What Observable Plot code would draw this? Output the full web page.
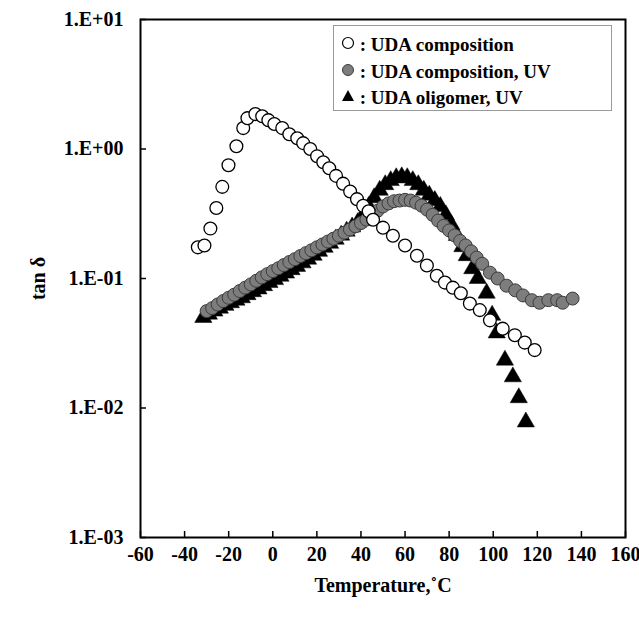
<!DOCTYPE html>
<html>
<head>
<meta charset="utf-8">
<script src="https://cdn.jsdelivr.net/npm/d3@7"></script>
<script src="https://cdn.jsdelivr.net/npm/@observablehq/plot@0.6"></script>
<style>
  html, body { margin: 0; padding: 0; background: #fff; overflow: hidden; }
  #wrap { position: relative; width: 639px; height: 623px; font-family: "Liberation Serif", "Times New Roman", serif; font-weight: bold; }
  #legend { position: absolute; left: 333px; top: 25px; width: 279px; height: 86px; border: 1px solid #9a9a9a; background: #fff; box-sizing: border-box; font-size: 19px; }
  .row { position: absolute; left: 7px; height: 22px; line-height: 22px; white-space: nowrap; }
  .row svg { vertical-align: top; }
</style>
</head>
<body>
<div id="wrap"><div id="legend"></div></div>
<script>
// ---- data ----
const seriesNames = ["UDA composition", "UDA composition, UV", "UDA oligomer, UV"];

// open circles: UDA composition
const openT = [-34, -31, -28.3, -25.6, -22.9, -20.1, -16.5, -13.4, -11.5, -7.9, -4.8, -2, 0.7, 4.3, 7.5, 11.1, 13.8, 17, 20.1, 22.9, 25.6, 28.7, 31.9, 35.1, 38.2, 41, 43.5, 45.5, 50, 54.5, 60, 65.4, 69.9, 74.4, 78.1, 81.7, 85.3, 89.4, 93.9, 98.5, 104.3, 109.8, 114.3, 118.8];
const openV = [0.174, 0.18, 0.243, 0.35, 0.51, 0.75, 1.05, 1.45, 1.73, 1.86, 1.79, 1.67, 1.56, 1.45, 1.3, 1.21, 1.11, 1.0, 0.88, 0.79, 0.71, 0.62, 0.54, 0.47, 0.41, 0.364, 0.33, 0.284, 0.247, 0.214, 0.18, 0.15, 0.126, 0.105, 0.093, 0.085, 0.077, 0.064, 0.057, 0.0475, 0.041, 0.0365, 0.032, 0.028];

// grey filled circles: UDA composition, UV
const greyT = [-30, -27.5, -25, -22.5, -20, -17.5, -15, -12.5, -10, -7.5, -5, -2.5, 0, 2.5, 5, 7.5, 10, 12.5, 15, 17.5, 20, 22.5, 25, 27.5, 30, 32.5, 35, 37.5, 40, 42.5, 45, 47.5, 50, 52.5, 55, 57.5, 60, 62.5, 65, 67.5, 70, 72.5, 75, 77.5, 80, 82.5, 85, 87.5, 90, 92.5, 95, 98.5, 102, 106, 110, 113.5, 117.5, 121, 125, 129, 131.5, 136];
const greyV = [0.056, 0.059, 0.063, 0.067, 0.071, 0.075, 0.080, 0.085, 0.090, 0.096, 0.102, 0.108, 0.114, 0.120, 0.127, 0.134, 0.141, 0.149, 0.157, 0.165, 0.174, 0.183, 0.193, 0.203, 0.214, 0.226, 0.239, 0.253, 0.268, 0.285, 0.305, 0.333, 0.36, 0.38, 0.395, 0.40, 0.405, 0.40, 0.385, 0.365, 0.34, 0.31, 0.28, 0.255, 0.235, 0.215, 0.195, 0.18, 0.162, 0.145, 0.130, 0.111, 0.100, 0.088, 0.081, 0.074, 0.068, 0.065, 0.068, 0.068, 0.065, 0.070];

// black triangles: UDA oligomer, UV
const triT = [-31.5, -29, -26.5, -24, -21.5, -19, -16.5, -14, -11.5, -9, -6.5, -4, -1.5, 1, 3.5, 6, 8.5, 11, 13.5, 16, 18.5, 21, 23.5, 26, 28.5, 31, 33.5, 36, 38.5, 41, 43.5, 46, 48.5, 51, 53.5, 56, 58.5, 61, 63.5, 66, 68.5, 71, 73.5, 76, 78.5, 81, 83.5, 86, 88, 90.5, 93, 97, 99.5, 101.6, 105.3, 108.9, 111.6, 114.8];
const triV = [0.050, 0.053, 0.056, 0.059, 0.062, 0.065, 0.068, 0.071, 0.075, 0.079, 0.083, 0.088, 0.093, 0.098, 0.104, 0.110, 0.117, 0.124, 0.132, 0.141, 0.151, 0.162, 0.174, 0.187, 0.201, 0.216, 0.232, 0.25, 0.27, 0.31, 0.36, 0.42, 0.48, 0.53, 0.57, 0.60, 0.61, 0.60, 0.57, 0.53, 0.48, 0.44, 0.40, 0.36, 0.31, 0.26, 0.215, 0.176, 0.15, 0.119, 0.100, 0.077, 0.052, 0.038, 0.0234, 0.0174, 0.012, 0.0078];

const xTicks = [-60, -40, -20, 0, 20, 40, 60, 80, 100, 120, 140, 160];
const xTickLabels = ["-60", "-40", "-20", "0", "20", "40", "60", "80", "100", "120", "140", "160"];
const yTicks = [0.001, 0.01, 0.1, 1, 10];
const yTickLabels = ["1.E-03", "1.E-02", "1.E-01", "1.E+00", "1.E+01"];
const xLabel = "Temperature,˚C";
const yLabel = "tan δ";

// ---- build tables ----
const openData = openT.map((t, i) => ({T: t, v: openV[i]}));
const greyData = greyT.map((t, i) => ({T: t, v: greyV[i]}));
const triData = triT.map((t, i) => ({T: t, v: triV[i]}));

const chart = Plot.plot({
  width: 639,
  height: 623,
  marginLeft: 140,
  marginRight: 14,
  marginTop: 19,
  marginBottom: 86,
  style: {fontFamily: "'Liberation Serif', 'Times New Roman', serif", fontWeight: "bold", fontSize: "20px", color: "#000", background: "#fff", overflow: "visible"},
  x: {domain: [-60, 160]},
  y: {type: "log", domain: [0.001, 10]},
  marks: [
    Plot.axisX({ticks: xTicks, tickSize: -6, tickPadding: 15, tickFormat: d => xTickLabels[xTicks.indexOf(d)],
      label: xLabel, labelAnchor: "center", labelOffset: 54, labelArrow: "none", strokeWidth: 1.5}),
    Plot.axisY({ticks: yTicks, tickSize: -6, tickPadding: 23, tickFormat: d => yTickLabels[yTicks.findIndex(t => Math.abs(t - d) / t < 1e-6)],
      label: yLabel, labelAnchor: "center", labelOffset: 110, labelArrow: "none", strokeWidth: 1.5}),
    Plot.dot(triData, {x: "T", y: "v", symbol: "triangle", r: 6.4, fill: "#000", stroke: "#000", strokeWidth: 0.5}),
    Plot.dot(greyData, {x: "T", y: "v", r: 6.5, fill: "#7d7d7d", stroke: "#3c3c3c", strokeWidth: 1}),
    Plot.dot(openData, {x: "T", y: "v", r: 6.4, fill: "#fff", stroke: "#000", strokeWidth: 1.3}),
    Plot.frame({stroke: "#000", strokeWidth: 2})
  ]
});
document.getElementById("wrap").prepend(chart);

// ---- legend ----
const legend = document.getElementById("legend");
const icons = [
  '<svg width="14" height="22"><circle cx="7" cy="9" r="5.5" fill="#fff" stroke="#000" stroke-width="1.2"/></svg>',
  '<svg width="14" height="22"><circle cx="7" cy="9" r="5.5" fill="#7d7d7d" stroke="#3c3c3c" stroke-width="1"/></svg>',
  '<svg width="14" height="22"><path d="M7,3 L13,14 L1,14 Z" fill="#000"/></svg>'
];
seriesNames.forEach((name, i) => {
  const row = document.createElement("div");
  row.className = "row";
  row.style.top = (8 + i * 26.5) + "px";
  row.innerHTML = icons[i] + "<span> : " + name + "</span>";
  legend.appendChild(row);
});
</script>
</body>
</html>
